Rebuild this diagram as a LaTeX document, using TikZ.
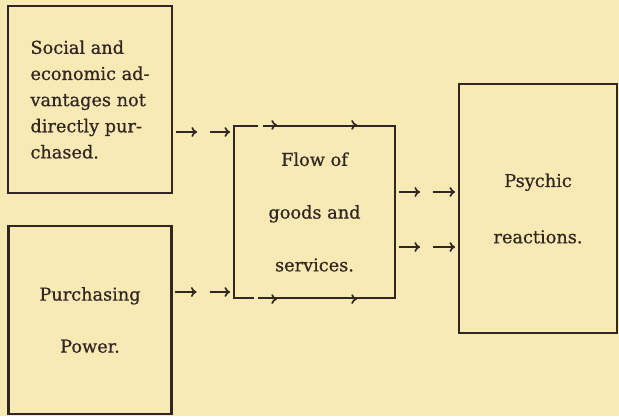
\documentclass[tikz,border=0pt]{standalone}
\usepackage{fontspec}
\setmainfont{DejaVu Serif}[FakeBold=0.7]
\usetikzlibrary{arrows.meta,calc,decorations.markings}
\definecolor{paper}{RGB}{248,234,180}
\definecolor{ink}{RGB}{50,38,34}

\tikzset{
  box/.style={draw=ink, line width=1.5pt, rectangle, inner sep=0pt, text=ink},
  flowline/.style={ink, line width=1.2pt, -{To[length=4pt,width=7pt]}},
  edgemarks/.style={decoration={markings,
      mark=at position #1 with {\fill[paper] (-1.6pt,-1.2pt) rectangle (1.6pt,1.2pt);},
      mark=at position 0.27 with {\arrow[ink, line width=1.2pt]{To[length=4pt,width=7pt]}},
      mark=at position 0.76 with {\arrow[ink, line width=1.2pt]{To[length=4pt,width=7pt]}}},
    decorate},
}

\begin{document}
\begin{tikzpicture}[x=0.025cm, y=-0.025cm]

  \def\d{0.025cm};

  \fill[paper] (0,0) rectangle (619,416);
  \useasboundingbox (0,0) rectangle (619,416);

  %draw boxes
  \node[box, minimum width=164*\d, minimum height=187*\d, align=left,
        font={\fontsize{12.6}{18.6}\selectfont}] (social) at (90,99.5)
        {Social and\\economic ad-\\vantages not\\directly pur-\\chased.};
  \node[box, minimum width=163*\d, minimum height=188*\d, align=center,
        font={\fontsize{12.6}{37}\selectfont}] (power) at (90,320)
        {Purchasing\\Power.};
  \node[box, minimum width=161*\d, minimum height=172*\d, align=center,
        font={\fontsize{12.6}{37.5}\selectfont}] (flow) at (314.5,212)
        {Flow of\\goods and\\services.};
  \node[box, minimum width=158*\d, minimum height=249*\d, align=center,
        font={\fontsize{12.6}{40}\selectfont}] (psychic) at (538,208.5)
        {Psychic\\reactions.};

  %arrows along the flow box
  \path[edgemarks=0.17] (flow.north west) -- (flow.north east);
  \path[edgemarks=0.14] (flow.south west) -- (flow.south east);

  %connectors
  \foreach \from/\to/\y in {social/flow/132, power/flow/292, flow/psychic/192, flow/psychic/247}{
    \coordinate (a) at (\from.east |- 0,\y);
    \draw[flowline, shorten <=2pt] (a) -- ($(a)+(24,0)$);
    \draw[flowline, shorten >=2pt] ($(a)+(37,0)$) -- (\to.west |- a);
  }

\end{tikzpicture}
\end{document}
